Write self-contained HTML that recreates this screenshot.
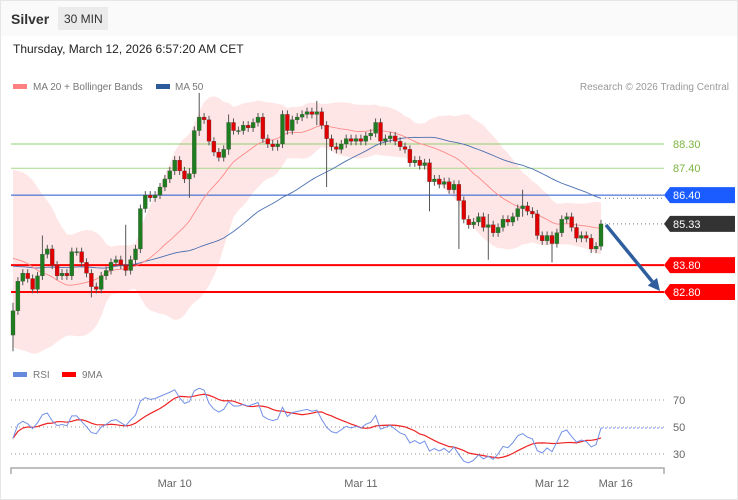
<!DOCTYPE html>
<html><head><meta charset="utf-8"><style>
body{margin:0;width:738px;height:500px;overflow:hidden;background:#fff;font-family:"Liberation Sans",sans-serif}
svg{display:block}
</style></head><body>
<svg id="c" width="738" height="500" xmlns="http://www.w3.org/2000/svg">
<rect x="0.5" y="0.5" width="737" height="499" fill="#fff" stroke="#e6e6e6"/>
<rect x="1" y="1" width="736" height="35" fill="#fafafa"/>
<text x="11" y="24" font-size="14" font-weight="bold" fill="#333">Silver</text>
<rect x="58" y="7" width="50" height="23" fill="#ebebeb"/>
<text x="64" y="23" font-size="12" fill="#333">30 MIN</text>
<text x="13" y="53" font-size="12" fill="#222">Thursday, March 12, 2026 6:57:20 AM CET</text>
<rect x="13" y="84" width="14" height="5" fill="#ff8080"/>
<text x="33" y="90" font-size="10" fill="#777">MA 20 + Bollinger Bands</text>
<rect x="156" y="84" width="14" height="5" fill="#2d5a9a"/>
<text x="175" y="90" font-size="10" fill="#777">MA 50</text>
<text x="729" y="90" font-size="10" fill="#999" text-anchor="end">Research © 2026 Trading Central</text>
<g id="main"></g>
<rect x="13" y="372" width="14" height="5" fill="#6688dd"/>
<text x="33" y="378" font-size="10" fill="#777">RSI</text>
<rect x="62" y="372" width="14" height="5" fill="#f00"/>
<text x="82" y="378" font-size="10" fill="#777">9MA</text>
<g id="rsi"></g>
<path d="M11,474 V468 H664 V474" fill="none" stroke="#aaa" stroke-width="1.5"/>
<g id="xt"></g>
</svg>
<script>
const prior=[82.0,82.3,82.6,82.9,83.1,83.3,83.5,83.7,84.0,84.2,84.0,84.3,84.6,85.0,85.4,85.8,86.0,85.8,85.6,85.9,85.4,85.0,84.4,83.8,83.2,82.6,82.0,81.6,81.3,81.2];
const closes=[82.1,83.2,83.5,83.3,82.9,83.4,84.2,84.4,83.8,83.4,83.5,83.4,84.3,84.3,83.9,83.5,83.0,82.9,83.4,83.6,83.9,84.0,83.8,83.6,84.0,84.4,85.9,86.4,86.3,86.4,86.7,87.0,87.3,87.7,87.3,87.0,87.2,88.8,89.3,89.2,88.4,88.0,87.8,88.1,89.1,88.8,88.8,89.0,88.9,89.1,89.3,88.5,88.3,88.2,88.3,89.4,88.8,89.2,89.3,89.4,89.5,89.4,89.5,89.0,88.5,88.2,88.1,88.3,88.5,88.4,88.5,88.4,88.6,88.7,89.1,88.4,88.5,88.6,88.4,88.2,88.1,87.6,87.7,87.5,87.6,86.9,87.0,86.8,86.9,86.6,86.8,86.2,85.5,85.3,85.4,85.6,85.2,85.3,85.0,85.2,85.5,85.4,85.6,85.9,86.0,85.8,85.7,84.9,84.7,84.9,84.6,85.0,85.5,85.6,85.2,84.8,84.9,84.8,84.4,84.5,85.33];
const firstOpen=81.2;
const longWicks=[[0,82.4,80.6],[6,84.9,83.3],[16,83.4,82.6],[23,85.3,83.4],[36,87.4,86.3],[38,90.2,88.6],[44,89.4,87.9],[62,89.9,89.0],[64,88.9,86.7],[85,87.6,85.8],[91,86.5,84.4],[97,85.7,84.0],[104,86.6,85.6],[110,85.0,83.9]];
const levels=[[88.30,"#8fd06f","88.30","g"],[87.40,"#a6d88a","87.40","g"],[86.40,"#2255cc","86.40","b"],[83.80,"#ff0000","83.80","r"],[82.80,"#ff0000","82.80","r"]];
const lastPrice=85.33;
const xLabels=["Mar 10","Mar 11","Mar 12","Mar 16"];
const xLabelIdx=[33,71,110,123];
const rsiTicks=[70,50,30];

const NS="http://www.w3.org/2000/svg";
const yP=p=>144+(88.30-p)*26.91;
const xI=i=>13+i*4.9;
const yR=v=>427-(v-50)*1.35;
function el(t,a,parent){const e=document.createElementNS(NS,t);for(const k in a)e.setAttribute(k,a[k]);parent.appendChild(e);return e;}
const main=document.getElementById('main'),rsiG=document.getElementById('rsi'),xt=document.getElementById('xt');
const all=prior.concat(closes),off=prior.length,N=closes.length;
function sma(arr,n,i){let s=0,c=0;for(let k=Math.max(0,i-n+1);k<=i;k++){s+=arr[k];c++;}return s/c;}
let up=[],lo=[],m20=[],m50=[];
for(let i=0;i<N;i++){const j=i+off;const m=sma(all,20,j);let v=0,c=0;for(let k=Math.max(0,j-19);k<=j;k++){v+=(all[k]-m)**2;c++;}const sd=Math.sqrt(v/c);m20.push(m);up.push(m+2*sd);lo.push(m-2*sd);m50.push(sma(all,50,j));}
let d="M"+up.map((v,i)=>xI(i)+","+yP(v)).join("L")+"L"+lo.map((v,i)=>xI(i)+","+yP(v)).reverse().join("L")+"Z";
let e=el('path',{d:d,fill:"#ffdede","fill-opacity":"0.75"},main);


levels.forEach(L=>{const y=yP(L[0]);const l=el('line',{x1:11,x2:664,y1:y,y2:y,stroke:L[1],"stroke-width":L[3]=="r"?2:1},main);

});
e=el('path',{d:"M"+m50.map((v,i)=>xI(i)+","+yP(v)).join("L"),fill:"none",stroke:"#4a6fb0","stroke-width":0.9},main);


e=el('path',{d:"M"+m20.map((v,i)=>xI(i)+","+yP(v)).join("L"),fill:"none",stroke:"#ff8a8a","stroke-width":0.9},main);


const wk={};longWicks.forEach(w=>wk[w[0]]=w);
for(let i=0;i<N;i++){const o=i?closes[i-1]:firstOpen,c=closes[i];let hi=Math.max(o,c)+0.15,lw=Math.min(o,c)-0.15;if(wk[i]){hi=Math.max(hi,wk[i][1]);lw=Math.min(lw,wk[i][2]);}
const x=xI(i);const w=el('line',{x1:x,x2:x,y1:yP(hi),y2:yP(lw),stroke:"#555","stroke-width":1},main);


const top=yP(Math.max(o,c)),h=Math.max(1,Math.abs(yP(o)-yP(c)));
const b=el('rect',{x:x-2,y:top,width:4,height:h,fill:c>=o?"#1e7d1e":"#e00000",stroke:"#444","stroke-width":0.3},main);

}
const xl=xI(N-1)+4;
[m50[N-1],lastPrice].forEach((p,k)=>{const l=el('line',{x1:xl,x2:664,y1:yP(p),y2:yP(p),stroke:"#777","stroke-dasharray":"1,3"},main);

});
function tag(p,color,txt,name){const y=yP(p);const g=el('g',{},main);


el('path',{d:`M664,${y} L670,${y-8} H735 V${y+8} H670 Z`,fill:color},g);
const t=el('text',{x:673,y:y+4,"font-size":11,fill:"#fff"},g);t.textContent=txt;}
levels.forEach(L=>{if(L[3]=="g"){const t=el('text',{x:673,y:yP(L[0])+4,"font-size":11,fill:"#7cb342"},main);t.textContent=L[2];

}
else tag(L[0],L[3]=="b"?"#1a5cff":"#ff0000",L[2],'level-tag-'+L[2]);});
tag(lastPrice,"#333",lastPrice.toFixed(2),'last-price-tag');
const ax1=xI(N-1)+5,ay1=yP(lastPrice)+1,ax2=660,ay2=yP(82.80)-1;
const ag=el('g',{},main);


const ang=Math.atan2(ay2-ay1,ax2-ax1);
const bx=ax2-12*Math.cos(ang),by=ay2-12*Math.sin(ang);
el('line',{x1:ax1,y1:ay1,x2:bx,y2:by,stroke:"#2f5e9e","stroke-width":3.5},ag);
const px=-Math.sin(ang)*6,py=Math.cos(ang)*6;
el('path',{d:`M${ax2},${ay2} L${bx+px},${by+py} L${bx-px},${by-py} Z`,fill:"#2f5e9e"},ag);
let rsi=[],ag_=0,al=0;const P=14;
for(let j=1;j<all.length;j++){const ch=all[j]-all[j-1];const g=Math.max(ch,0),l=Math.max(-ch,0);
if(j<=P){ag_+=g/P;al+=l/P;}else{ag_=(ag_*(P-1)+g)/P;al=(al*(P-1)+l)/P;}
if(j>=off)rsi.push(al==0?100:100-100/(1+ag_/al));}
rsi=rsi.slice(0,N);
rsiTicks.forEach(v=>{const l=el('line',{x1:11,x2:664,y1:yR(v),y2:yR(v),stroke:"#999","stroke-dasharray":"1,3"},rsiG);


const t=el('text',{x:673,y:yR(v)+4,"font-size":11,fill:"#666"},rsiG);t.textContent=v;

});
const r9=rsi.map((v,i)=>sma(rsi,9,i));
e=el('path',{d:"M"+r9.map((v,i)=>xI(i)+","+yR(v)).join("L"),fill:"none",stroke:"#ee2222","stroke-width":1.2},rsiG);


e=el('path',{d:"M"+rsi.map((v,i)=>xI(i)+","+yR(v)).join("L"),fill:"none",stroke:"#7390e6","stroke-width":1},rsiG);


e=el('line',{x1:xI(N-1),x2:664,y1:yR(rsi[N-1]),y2:yR(rsi[N-1]),stroke:"#7390e6","stroke-dasharray":"2,2"},rsiG);


xLabels.forEach((s,k)=>{const t=el('text',{x:xI(xLabelIdx[k]),y:487,"font-size":11,fill:"#666","text-anchor":"middle"},xt);t.textContent=s;

});
</script>
</body></html>
